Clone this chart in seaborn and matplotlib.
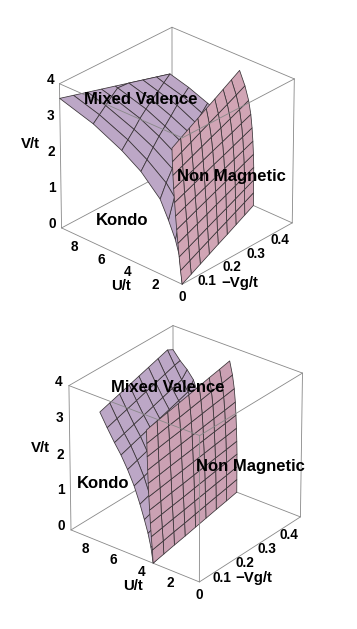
from matplotlib import pyplot as plt
from mpl_toolkits.mplot3d import proj3d
import numpy as np
import seaborn as sns

sns.set_theme(style="white")
plt.rcParams['font.family'] = ['Liberation Sans', 'DejaVu Sans']

FIG_W, FIG_H = 357, 629

U_MAX, VG_MAX, V_MAX = 9.0, 0.45, 4.0
u_ticks = [2, 4, 6, 8]
vg_ticks = [0.1, 0.2, 0.3, 0.4]
v_ticks = [0, 1, 2, 3, 4]

wall_vg = [0, 0.05625, 0.1125, 0.16875, 0.225, 0.28125, 0.3375, 0.39375, 0.45]

# upper panel, mixed valence sheet: rows follow Vg, columns run across the sheet
upper_sheet_vg = [0, 0.038, 0.077, 0.115, 0.153, 0.191, 0.23, 0.268, 0.306]
upper_sheet_u = [
    [0, 0.2, 0.5, 1, 1.6, 3, 4.4, 6.5, 9],
    [.26, .46, .76, 1.26, 1.86, 3.26, 4.66, 6.76, 8.69],
    [.53, .73, 1.03, 1.53, 2.13, 3.53, 4.93, 7.03, 8.37],
    [.8, 1, 1.3, 1.8, 2.4, 3.8, 5.2, 7.3, 8.06],
    [1.06, 1.26, 1.56, 2.06, 2.66, 4.06, 5.46, 7.56, 7.75],
    [1.32, 1.52, 1.82, 2.32, 2.92, 4.32, 5.72, 7.44, 7.44],
    [1.59, 1.79, 2.09, 2.59, 3.19, 4.59, 5.99, 7.12, 7.12],
    [1.86, 2.06, 2.36, 2.86, 3.46, 4.86, 6.26, 6.81, 6.81],
    [2.12, 2.32, 2.62, 3.12, 3.72, 5.12, 6.5, 6.5, 6.5],
]
upper_sheet_v = [
    [0.00, 0.75, 1.15, 1.60, 2.07, 2.59, 2.93, 3.31, 3.60],
    [1.25, 1.40, 1.65, 2.05, 2.33, 2.73, 3.04, 3.38, 3.60],
    [1.73, 1.88, 2.12, 2.35, 2.53, 2.88, 3.14, 3.45, 3.60],
    [2.16, 2.24, 2.35, 2.53, 2.68, 3.00, 3.26, 3.52, 3.60],
    [2.38, 2.45, 2.55, 2.67, 2.82, 3.10, 3.34, 3.58, 3.60],
    [2.56, 2.62, 2.69, 2.81, 2.95, 3.20, 3.41, 3.60, 3.60],
    [2.71, 2.76, 2.83, 2.94, 3.05, 3.31, 3.47, 3.60, 3.60],
    [2.85, 2.90, 2.95, 3.05, 3.15, 3.38, 3.53, 3.60, 3.60],
    [2.97, 3.00, 3.06, 3.15, 3.24, 3.45, 3.60, 3.60, 3.60],
]

# lower panel, mixed valence sheet: columns keep one V along the sheet, the far row drops
lower_sheet_vg = [0, 0.05625, 0.1125, 0.16875, 0.225, 0.28125, 0.3375, 0.39375, 0.45]
lower_u_cols = [3.2, 3.35, 3.55, 3.8, 4.1, 4.5, 4.95, 5.4, 5.85, 6.35, 6.85]
lower_u_shift = [0, 0.235, 0.47, 0.705, 0.94, 1.175, 1.41, 1.645, 2.15]
lower_curve_v = [0, 0.42, 0.78, 1.12, 1.5, 1.94, 2.32, 2.65, 2.92, 3.25, 3.6]
lower_far_v = [0, 0.42, 0.78, 1.12, 1.5, 1.94, 2.2, 2.7, 2.92, 3.1, 3.33]

# non magnetic wall: U at V=0 for each Vg, plus how far it leans (rows V, columns Vg)
wall_v_levels = [0, 0.36, 0.72, 1.08, 1.44, 1.8, 2.16, 2.52, 2.88, 3.24, 3.6]
upper_wall_u = [0, 0.36, 0.72, 1.08, 1.44, 1.79, 2.15, 2.51, 2.87]
upper_wall_lean = [
    [0, 0, 0, 0, 0, 0, 0, 0, 0],
    [.12, .105, .09, .075, .06, .045, .03, .015, 0],
    [.22, .19, .165, .14, .11, .08, .055, .03, 0],
    [.31, .27, .23, .19, .155, .12, .08, .04, 0],
    [.40, .35, .31, .26, .215, .17, .12, .08, .03],
    [.48, .43, .38, .33, .28, .23, .18, .13, .08],
    [.55, .50, .45, .40, .35, .30, .25, .20, .15],
    [.62, .57, .53, .48, .435, .39, .34, .30, .25],
    [.67, .64, .61, .58, .545, .515, .48, .45, .42],
    [.71, .71, .71, .71, .705, .705, .70, .70, .70],
    [.74, .785, .83, .875, .92, .965, 1.01, 1.055, 1.10],
]
lower_wall_u = [3.2, 3.36, 3.52, 3.67, 3.83, 3.99, 4.15, 4.3, 4.46]
lower_wall_lean = [
    [0, 0, 0, 0, 0, 0, 0, 0, 0],
    [.05, .04, .04, .03, .025, .02, .01, .005, 0],
    [.12, .105, .09, .075, .06, .045, .03, .015, 0],
    [.18, .16, .135, .11, .09, .07, .045, .02, 0],
    [.23, .20, .18, .15, .125, .10, .07, .045, .02],
    [.28, .25, .22, .195, .165, .135, .11, .08, .05],
    [.32, .29, .265, .24, .205, .18, .15, .12, .09],
    [.35, .33, .30, .28, .245, .22, .19, .165, .14],
    [.38, .36, .34, .32, .30, .28, .26, .24, .22],
    [.40, .395, .39, .38, .375, .37, .365, .36, .35],
    [.42, .44, .45, .47, .485, .50, .52, .535, .55],
]

sheet_color, upper_wall_color, lower_wall_color = sns.color_palette(["#BCA7C6", "#D1A5B5", "#CBA1B3"])
box_color = "#888888"
mesh_color = "#3a3438"


def px_text(fig, x, y, s, size=12, **kw):
    fig.text(x / FIG_W, 1 - y / FIG_H, s, size=size, fontweight="bold",
             ha=kw.pop("ha", "center"), va="center", color="black", **kw)


def tick_label(ax, x, y, z, s):
    # project by hand so the label sits in the 2d view coordinates
    x2, y2, _ = proj3d.proj_transform(x, y, z, ax.get_proj())
    ax.text2D(x2, y2, s, transform=ax.transData, size=9.8, fontweight="bold",
              ha="center", va="center", color="black", zorder=5)


def draw_box(ax, front_edge):
    x, y, z = VG_MAX, U_MAX, V_MAX
    back = [
        ([0, x], [y, y], [z, z]), ([x, x], [0, y], [z, z]),
        ([x, x], [y, y], [0, z]), ([0, x], [y, y], [0, 0]), ([x, x], [0, y], [0, 0]),
        ([0, 0], [y, y], [0, z]), ([x, x], [0, 0], [0, z]),
        ([0, x], [0, 0], [0, 0]), ([0, 0], [0, y], [0, 0]),
    ]
    for a, b, c in back:
        ax.plot(a, b, c, color=box_color, lw=0.6, zorder=1)
    front = [([0, x], [0, 0], [z, z]), ([0, 0], [0, y], [z, z])]
    if front_edge:
        front.append(([0, 0], [0, 0], [0, z]))
    for a, b, c in front:
        ax.plot(a, b, c, color=box_color, lw=0.6, zorder=4)


def draw_panel(center, azim, elev, sheet_vg, sheet_u, sheet_v, wall_u, wall_lean, wall_color, front_edge):
    width = 277
    cx, cy = center
    ax = fig.add_axes([(cx - 0.5135 * width) / FIG_W, 1 - (cy + 0.5135 * width) / FIG_H,
                       width / FIG_W, width / FIG_H],
                      projection="3d", computed_zorder=False)
    ax.set_proj_type("persp", focal_length=3)
    ax.view_init(elev=elev, azim=azim)
    ax.set_box_aspect((1, 1, 1))
    ax.set_xlim(0, VG_MAX, view_margin=0)
    ax.set_ylim(0, U_MAX, view_margin=0)
    ax.set_zlim(0, V_MAX, view_margin=0)
    ax.set_axis_off()
    for axis in (ax.xaxis, ax.yaxis, ax.zaxis):
        axis.set_ticks([])
        axis.set_visible(False)
    ax.patch.set_alpha(0)

    draw_box(ax, front_edge)

    sheet_y = np.array(sheet_u)
    sheet_x = np.tile(np.array(sheet_vg)[:, None], (1, sheet_y.shape[1]))
    ax.plot_surface(sheet_x, sheet_y, np.array(sheet_v), color=sheet_color, edgecolor=mesh_color,
                    linewidth=0.55, shade=False, rstride=1, cstride=1, zorder=2)

    wall_x, wall_z = np.meshgrid(wall_vg, wall_v_levels)
    wall_y = np.array(wall_lean) + np.array(wall_u)
    ax.plot_surface(wall_x, wall_y, wall_z, color=wall_color, edgecolor=mesh_color,
                    linewidth=0.55, shade=False, rstride=1, cstride=1, zorder=3)

    for u in u_ticks:
        tick_label(ax, 0, u, -0.37, str(u))
    for g in vg_ticks:
        tick_label(ax, g, 0, -0.3, str(g))
    tick_label(ax, 0, 0, -0.36, "0")
    for v in v_ticks:
        tick_label(ax, 0, U_MAX + 0.7, v, str(v))
    return ax


fig = plt.figure(figsize=(FIG_W / 100, FIG_H / 100), dpi=100, facecolor="white")

draw_panel((177, 154), -137.5, 29, upper_sheet_vg, upper_sheet_u, upper_sheet_v,
           upper_wall_u, upper_wall_lean, upper_wall_color, False)

lower_sheet_u = np.add.outer(lower_u_shift, lower_u_cols)
lower_sheet_v = [lower_curve_v] * 8 + [lower_far_v]
draw_panel((186, 452), -141.5, 29, lower_sheet_vg, lower_sheet_u, lower_sheet_v,
           lower_wall_u, lower_wall_lean, lower_wall_color, True)

px_text(fig, 141, 100, "Mixed Valence")
px_text(fig, 231, 177, "Non Magnetic")
px_text(fig, 122, 220, "Kondo")
px_text(fig, 30, 144, "V/t", size=10.8)
px_text(fig, 121, 286, "U/t", size=10.8)
px_text(fig, 221, 283, "\u2212Vg/t", size=10.8, ha="left")

px_text(fig, 168, 387, "Mixed Valence")
px_text(fig, 250, 467, "Non Magnetic")
px_text(fig, 103, 484, "Kondo")
px_text(fig, 40, 448, "V/t", size=10.8)
px_text(fig, 133, 586, "U/t", size=10.8)
px_text(fig, 235, 578, "\u2212Vg/t", size=10.8, ha="left")

fig.savefig("out.png", dpi=100)
